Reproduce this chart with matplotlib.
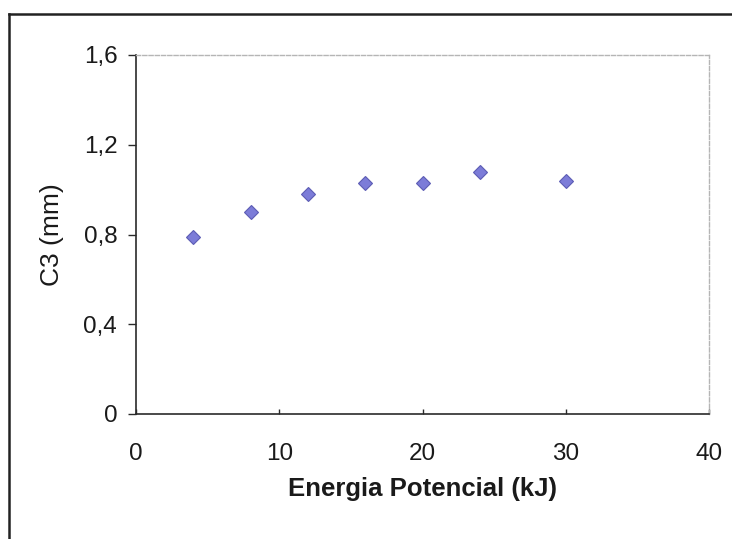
import matplotlib
matplotlib.use('Agg')
import matplotlib.pyplot as plt
from matplotlib.lines import Line2D
from matplotlib.ticker import FuncFormatter

# Energia potencial (kJ) vs C3 (mm)
energia = [4, 8, 12, 16, 20, 24, 30]
c3 = [0.79, 0.90, 0.98, 1.03, 1.03, 1.08, 1.04]
x_ticks = [0, 10, 20, 30, 40]
y_ticks = [0, 0.4, 0.8, 1.2, 1.6]

plt.rcParams['font.family'] = ['Liberation Sans', 'DejaVu Sans']

W, H = 732, 539
fig = plt.figure(figsize=(W / 100, H / 100), dpi=100)
ax = fig.add_axes([136 / W, 1 - 414 / H, (709 - 136) / W, (414 - 55) / H])

ax.plot(energia, c3, linestyle='none', marker='D', markersize=7.2,
        markerfacecolor='#7c7cd8', markeredgecolor='#5c5cb4', markeredgewidth=0.8)

ax.set_xlim(0, 40)
ax.set_ylim(0, 1.6)
ax.set_xticks(x_ticks)
ax.set_yticks(y_ticks)
ax.yaxis.set_major_formatter(FuncFormatter(lambda v, p: ('%g' % v).replace('.', ',')))

# Excel-like frame: solid left/bottom, faint dashed top/right
for side in ['left', 'bottom']:
    ax.spines[side].set_color('#2a2a2a')
    ax.spines[side].set_linewidth(1.2)
for side in ['top', 'right']:
    ax.spines[side].set_color('#b5b5b5')
    ax.spines[side].set_linewidth(1.0)
    ax.spines[side].set_linestyle((0, (3, 1.5)))

ax.tick_params(axis='y', direction='out', length=5.5, width=1.0, color='#2a2a2a',
               pad=8, labelsize=17.5, labelcolor='#1a1a1a')
ax.tick_params(axis='x', direction='in', length=3.5, width=1.0, color='#2a2a2a',
               pad=21, labelsize=17.5, labelcolor='#1a1a1a')

ax.set_xlabel('Energia Potencial (kJ)', fontsize=18.5, fontweight='bold', color='#1a1a1a')
ax.xaxis.label.set_va('center')
ax.xaxis.set_label_coords(0.5, -(489 - 414) / (414 - 55))

ax.set_ylabel('C3 (mm)', fontsize=19, color='#1a1a1a')
ax.yaxis.label.set_va('center')
ax.yaxis.set_label_coords(-(136 - 52) / (709 - 136), 0.5)

# outer chart border
fig.add_artist(Line2D([9 / W, 9 / W], [0, 1 - 14 / H], transform=fig.transFigure,
                      color='#222222', linewidth=1.8))
fig.add_artist(Line2D([9 / W, 1], [1 - 14 / H, 1 - 14 / H], transform=fig.transFigure,
                      color='#222222', linewidth=1.8))

fig.savefig('out.png', dpi=100)
